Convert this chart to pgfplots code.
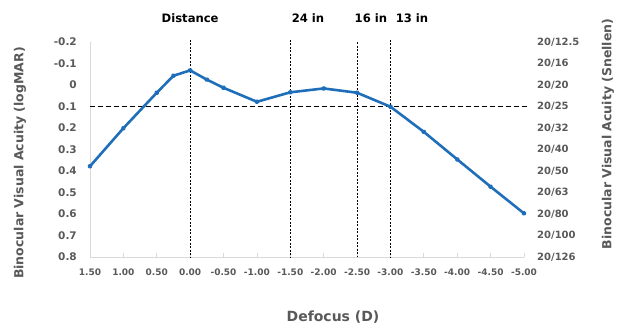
\documentclass[border=0pt]{standalone}
\usepackage{pgfplots}
\pgfplotsset{compat=1.18}
\usepackage{fontspec}
\setmainfont{DejaVu Sans}
\definecolor{lineblue}{RGB}{31,110,185}
\definecolor{txtgray}{RGB}{89,89,89}
\definecolor{axgray}{RGB}{217,217,217}
\begin{document}
\begin{tikzpicture}
\path[use as bounding box] (0,0) rectangle (622pt,326pt);
\begin{axis}[
  at={(90pt,69pt)}, anchor=south west,
  scale only axis, width=434pt, height=215pt,
  xmin=-5, xmax=1.5, x dir=reverse,
  ymin=-0.2, ymax=0.8, y dir=reverse,
  clip=false,
  axis line style={draw=none},
  xtick={1.5,1,0.5,0,-0.5,-1,-1.5,-2,-2.5,-3,-3.5,-4,-4.5,-5},
  xticklabels={1.50,1.00,0.50,0.00,-0.50,-1.00,-1.50,-2.00,-2.50,-3.00,-3.50,-4.00,-4.50,-5.00},
  ytick={-0.2,-0.1,0,0.1,0.2,0.3,0.4,0.5,0.6,0.7,0.8},
  yticklabels={-0.2,-0.1,0,0.1,0.2,0.3,0.4,0.5,0.6,0.7,0.8},
  /pgf/number format/assume math mode=true,
  xtick pos=left, xticklabel pos=left,
  ytick pos=left,
  xtick align=inside,
  major tick length=4pt,
  xtick style={draw=axgray, line width=0.75pt},
  ytick style={draw=none},
  xticklabel style={font=\bfseries\fontsize{9}{10}\selectfont, text=txtgray, inner sep=0pt, anchor=north, yshift=-12pt},
  yticklabel style={font=\bfseries\fontsize{10.5}{12}\selectfont, text=txtgray, inner sep=0pt, anchor=east, xshift=-13pt},
]
\draw[axgray, line width=0.75pt] (axis cs:1.5,-0.2) -- (axis cs:1.5,0.8) -- (axis cs:-5,0.8);
% reference lines
\addplot[black, line width=0.8pt, dash pattern=on 5pt off 3pt, forget plot] coordinates {(1.5,0.1) (-5.06,0.1)};
\addplot[black, line width=0.7pt, dash pattern=on 2pt off 1.5pt, forget plot] coordinates {(0,-0.21) (0,0.8)};
\addplot[black, line width=0.7pt, dash pattern=on 2pt off 1.5pt, forget plot] coordinates {(-1.5,-0.21) (-1.5,0.8)};
\addplot[black, line width=0.7pt, dash pattern=on 2pt off 1.5pt, forget plot] coordinates {(-2.5,-0.2) (-2.5,0.8)};
\addplot[black, line width=0.7pt, dash pattern=on 2pt off 1.5pt, forget plot] coordinates {(-3,-0.21) (-3,0.8)};
% data
\addplot[lineblue, line width=2.6pt, mark=*, mark size=1.2pt, line join=round] coordinates {
(1.5,0.378) (1.0,0.201) (0.5,0.036) (0.25,-0.043) (0.0,-0.068) (-0.25,-0.025) (-0.5,0.013)
(-1.0,0.078) (-1.5,0.034) (-2.0,0.016) (-2.5,0.036) (-3.0,0.101) (-3.5,0.218)
(-4.0,0.346) (-4.5,0.473) (-5.0,0.597)};
% top labels
\node[font=\bfseries\fontsize{11.6}{13}\selectfont, text=black] at (axis cs:0,-0.2) [yshift=24pt] {Distance};
\node[font=\bfseries\fontsize{11.6}{13}\selectfont, text=black] at (axis cs:-1.765,-0.2) [yshift=24pt] {24 in};
\node[font=\bfseries\fontsize{11.6}{13}\selectfont, text=black] at (axis cs:-2.708,-0.2) [yshift=24pt] {16 in};
\node[font=\bfseries\fontsize{11.6}{13}\selectfont, text=black] at (axis cs:-3.323,-0.2) [yshift=24pt] {13 in};
\end{axis}
\begin{axis}[
  at={(90pt,69pt)}, anchor=south west,
  scale only axis, width=434pt, height=215pt,
  xmin=-5, xmax=1.5, x dir=reverse,
  ymin=-0.2, ymax=0.8, y dir=reverse,
  axis line style={draw=none},
  xtick=\empty,
  ytick={-0.2,-0.1,0,0.1,0.2,0.3,0.4,0.5,0.6,0.7,0.8},
  yticklabels={20/12.5,20/16,20/20,20/25,20/32,20/40,20/50,20/63,20/80,20/100,20/126},
  ytick pos=right, yticklabel pos=right,
  ytick style={draw=none},
  yticklabel style={font=\bfseries\fontsize{10}{12}\selectfont, text=txtgray, inner sep=0pt, anchor=west, xshift=13pt},
]
\end{axis}
\node[font=\bfseries\fontsize{14}{16}\selectfont, text=txtgray, anchor=base] at (333pt,4pt) {Defocus (D)};
\node[font=\bfseries\fontsize{12.5}{14}\selectfont, text=txtgray, rotate=90] at (20pt,163pt) {Binocular Visual Acuity (logMAR)};
\node[font=\bfseries\fontsize{12.5}{14}\selectfont, text=txtgray, rotate=90] at (608pt,192pt) {Binocular Visual Acuity (Snellen)};
\end{tikzpicture}
\end{document}
